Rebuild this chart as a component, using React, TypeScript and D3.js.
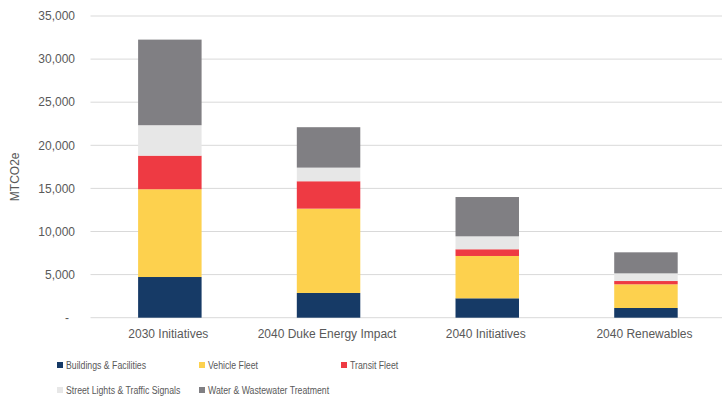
import React from "react";
import * as d3 from "d3";

const WIDTH = 722;
const HEIGHT = 397;

const categories = [
  "2030 Initiatives",
  "2040 Duke Energy Impact",
  "2040 Initiatives",
  "2040 Renewables",
];

const seriesNames = [
  "Buildings & Facilities",
  "Vehicle Fleet",
  "Transit Fleet",
  "Street Lights & Traffic Signals",
  "Water & Wastewater Treatment",
];

const buildings = [4720, 2870, 2250, 1125];
const vehicleFleet = [10180, 9780, 4910, 2750];
const transitFleet = [3900, 3180, 780, 380];
const streetLights = [3530, 1580, 1500, 890];
const water = [9930, 4690, 4560, 2440];

const seriesValues = [buildings, vehicleFleet, transitFleet, streetLights, water];

const colors = ["#163A66", "#FDD14E", "#EE3A43", "#E7E7E7", "#807F83"];

const yTicks = [0, 5000, 10000, 15000, 20000, 25000, 30000, 35000];

const plot = { left: 90.5, right: 725.3, top: 16, bottom: 317.7 };

const textColor = "#595959";
const gridColor = "#D9D9D9";
const axisFont = "'Liberation Sans', Arial, sans-serif";
// legend text uses a horizontally condensed sans
const legendScaleX = 0.76;

export default function App() {
  const x = d3
    .scaleBand<string>()
    .domain(categories)
    .range([plot.left, plot.right])
    .paddingInner(0.6)
    .paddingOuter(0.3);

  const y = d3.scaleLinear().domain([0, 35000]).range([plot.bottom, plot.top]);

  const rows = categories.map((c, i) => {
    const row: Record<string, number | string> = { category: c };
    seriesNames.forEach((s, k) => {
      row[s] = seriesValues[k][i];
    });
    return row;
  });

  const stacked = d3.stack<Record<string, number | string>>().keys(seriesNames)(rows as any);

  const fmt = d3.format(",");

  const legendCols = [57, 199, 341];
  const legendRows = [365, 390];

  return (
    <svg
      width={WIDTH}
      height={HEIGHT}
      style={{ position: "absolute", left: 0, top: 0, background: "#fff" }}
    >
      {/* gridlines */}
      {yTicks.map((t) => (
        <line
          key={t}
          x1={plot.left}
          x2={WIDTH}
          y1={y(t)}
          y2={y(t)}
          stroke={gridColor}
          strokeWidth={1}
        />
      ))}

      {/* y tick labels */}
      {yTicks.map((t) => (
        <text
          key={"l" + t}
          x={75}
          dx={t === 0 ? -6 : 0}
          y={y(t)}
          dy="0.35em"
          textAnchor="end"
          fontFamily={axisFont}
          fontSize={12}
          fill={textColor}
        >
          {t === 0 ? "-" : fmt(t)}
        </text>
      ))}

      <text
        transform={`translate(19,${(plot.top + plot.bottom) / 2 + 10}) rotate(-90)`}
        textAnchor="middle"
        fontFamily={axisFont}
        fontSize={12}
        fill={textColor}
      >
        MTCO2e
      </text>

      {/* stacked bars */}
      {stacked.map((layer, k) => (
        <g key={layer.key} fill={colors[k]}>
          {layer.map((d, i) => (
            <rect
              key={i}
              x={x(categories[i])}
              width={x.bandwidth()}
              y={y(d[1])}
              height={y(d[0]) - y(d[1])}
            />
          ))}
        </g>
      ))}

      {/* category labels */}
      {categories.map((c) => (
        <text
          key={c}
          x={(x(c) ?? 0) + x.bandwidth() / 2 - 1.5}
          y={plot.bottom + 20}
          textAnchor="middle"
          fontFamily={axisFont}
          fontSize={12}
          fill={textColor}
        >
          {c}
        </text>
      ))}

      {/* legend */}
      {seriesNames.map((s, k) => {
        const cx = legendCols[k % 3];
        const cy = legendRows[Math.floor(k / 3)];
        return (
          <g key={s}>
            <rect x={cx} y={cy - 3} width={6} height={6} fill={colors[k]} />
            <text
              transform={`translate(${cx + 9},${cy}) scale(${legendScaleX},1)`}
              dy="0.35em"
              fontFamily={axisFont}
              fontSize={11.5}
              fill={textColor}
            >
              {s}
            </text>
          </g>
        );
      })}
    </svg>
  );
}
